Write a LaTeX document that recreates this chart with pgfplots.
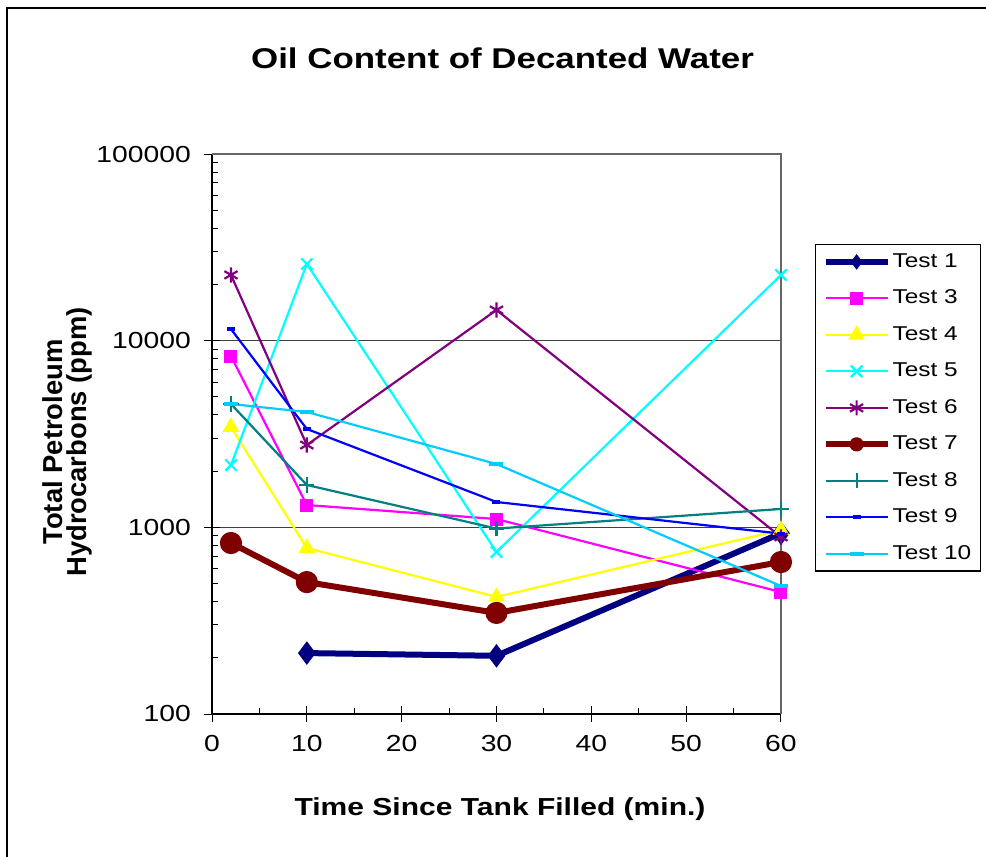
\documentclass[border=0pt]{standalone}
\usepackage{pgfplots}
\pgfplotsset{compat=1.18}
\usepackage{fontspec}
\setmainfont{Liberation Sans}[FakeStretch=1.22]
\newfontfamily\ylabfont{Liberation Sans}

\definecolor{tOne}{HTML}{000080}
\definecolor{tThree}{HTML}{FF00FF}
\definecolor{tFour}{HTML}{FFFF00}
\definecolor{tFive}{HTML}{00FFFF}
\definecolor{tSix}{HTML}{800080}
\definecolor{tSeven}{HTML}{800000}
\definecolor{tEight}{HTML}{008080}
\definecolor{tNine}{HTML}{0000FF}
\definecolor{tTen}{HTML}{00CCFF}

\begin{document}
\begin{tikzpicture}
\useasboundingbox (0,0) rectangle (493pt,-428.5pt);
% outer chart frame
\draw[black, line width=1pt] (3.5pt,-440pt) -- (3.5pt,-4pt) -- (500pt,-4pt);

\node[font=\bfseries\fontsize{14.3}{16}\selectfont] at (251.25pt,-29pt) {Oil Content of Decanted Water};
\node[font=\ylabfont\bfseries\fontsize{13.7}{11.8}\selectfont, rotate=90, align=center] at (33.75pt,-221pt) {Total Petroleum\\Hydrocarbons (ppm)};
\node[font=\bfseries\fontsize{12.3}{14}\selectfont] at (250pt,-404.5pt) {Time Since Tank Filled (min.)};

\begin{axis}[
  scale only axis, width=284.5pt, height=280pt,
  at={(106pt,-357pt)}, anchor=south west,
  xmin=0, xmax=60, ymode=log, ymin=100, ymax=100000,
  xtick={0,10,...,60}, minor x tick num=1,
  ytick={100,1000,10000,100000},
  yticklabels={100,1000,10000,100000},
  axis lines=left, axis line style={-, black, line width=1pt},
  tick align=center, major tick length=8pt, minor tick length=3.2pt,
  tick style={black, line width=0.5pt},
  minor x tick style={yshift=1.6pt},
  minor y tick style={xshift=1.6pt},
  ymajorgrids, major grid style={black!75, line width=0.7pt},
  /pgf/number format/assume math mode=true,
  ticklabel style={font=\fontsize{11.6}{13}\selectfont},
  xticklabel style={yshift=-3pt},
  yticklabel style={xshift=-3pt},
  clip=false,
  every axis plot/.append style={line width=1.1pt},
  legend image code/.code={\draw[mark repeat=2,mark phase=2] plot coordinates {(0pt,0pt) (15.5pt,0pt) (31pt,0pt)};},
  legend style={at={(1.0598,0.839)}, anchor=north west, draw=black, line width=0.6pt,
    font=\fontsize{10}{11}\selectfont, legend cell align=left,
    inner xsep=3.5pt, inner ysep=2.8pt, row sep=6.75pt,
    nodes={inner sep=1pt, text height=0.75em, text depth=0.2em}},
]
\draw[black!60, line width=0.7pt] (rel axis cs:0,1) -- (rel axis cs:1,1) -- (rel axis cs:1,0);

\addplot[color=tOne, line width=3pt, mark=diamond*, mark size=5.5pt, mark options={line width=0.5pt},
  legend image post style={mark size=3.5pt}]
  coordinates {(10,212) (30,205) (60,930)};
\addlegendentry{Test 1}
\addplot[color=tThree, mark=square*, mark size=3pt, mark options={line width=0.5pt}]
  coordinates {(2,8270) (10,1317) (30,1108) (60,450)};
\addlegendentry{Test 3}
\addplot[color=tFour, mark=triangle*, mark size=4.3pt, mark options={line width=0.5pt}]
  coordinates {(2,3450) (10,775) (30,424) (60,968)};
\addlegendentry{Test 4}
\addplot[color=tFive, mark=x, mark size=4pt]
  coordinates {(2,2157) (10,25750) (30,738) (60,22480)};
\addlegendentry{Test 5}
\addplot[color=tSix, mark=asterisk, mark size=3.8pt]
  coordinates {(2,22500) (10,2761) (30,14600) (60,888)};
\addlegendentry{Test 6}
\addplot[color=tSeven, line width=3pt, mark=*, mark size=5.3pt, mark options={line width=0.5pt},
  legend image post style={mark size=3.3pt}]
  coordinates {(2,824) (10,509) (30,348) (60,652)};
\addlegendentry{Test 7}
\addplot[color=tEight, mark=+, mark size=3.8pt]
  coordinates {(2,4580) (10,1686) (30,985) (60,1254)};
\addlegendentry{Test 8}
\addplot[color=tNine, mark=-, mark size=2pt, mark options={line width=2pt}]
  coordinates {(2,11540) (10,3365) (30,1367) (60,925)};
\addlegendentry{Test 9}
\addplot[color=tTen, mark=-, mark size=3.5pt, mark options={line width=2pt}]
  coordinates {(2,4580) (10,4150) (30,2184) (60,485)};
\addlegendentry{Test 10}
\end{axis}
\end{tikzpicture}
\end{document}
